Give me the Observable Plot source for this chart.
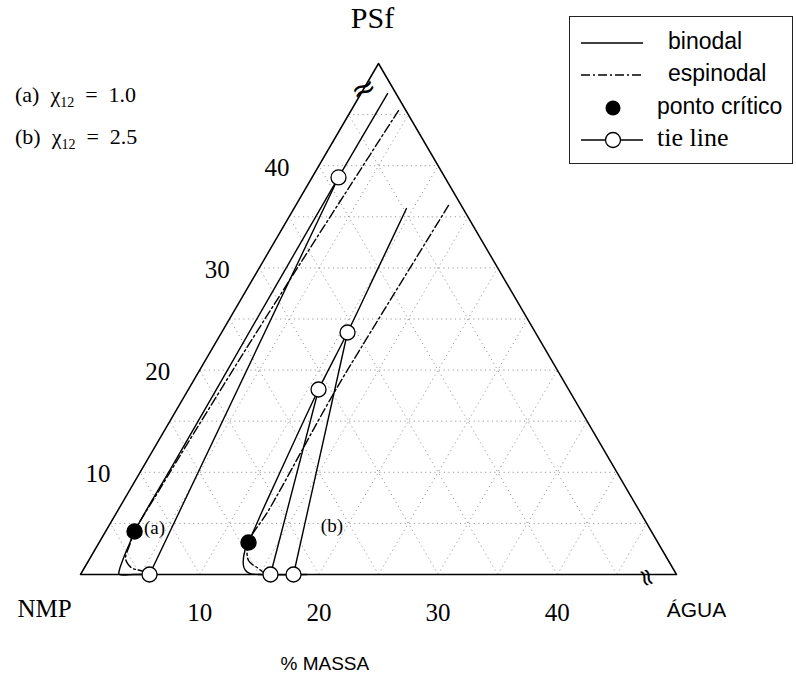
<!DOCTYPE html>
<html><head><meta charset="utf-8">
<script src="https://cdn.jsdelivr.net/npm/d3@7"></script>
<script src="https://cdn.jsdelivr.net/npm/@observablehq/plot@0.6"></script>
<style>
body{margin:0;background:#fff;}
#wrap{position:relative;width:796px;height:675px;overflow:hidden;}
#chart svg{display:block;}
.notes{position:absolute;left:15px;top:74px;font-family:"Liberation Serif",serif;font-size:22px;color:#000;line-height:42px;}
.notes sub{font-size:14px;vertical-align:-5px;line-height:0;}
.legend{position:absolute;left:569px;top:16px;width:222px;height:146px;border:1.5px solid #222;background:#fff;}
.legend svg{position:absolute;left:0;top:0;}
</style></head><body>
<div id="wrap"><div id="chart"></div><div class="notes" id="notes"></div><div class="legend" id="legend"></div></div>
<script>
// ---- data: compositions as [ÁGUA %, PSf %] (NMP = rest), truncated ternary 0–50 %
const fullScale = 50;
const gridLevels = [5, 10, 15, 20, 25, 30, 35, 40, 45];
const sideTicks = [10, 20, 30, 40];      // PSf labels (left side)
const baseTicks = [10, 20, 30, 40];      // ÁGUA labels (bottom)

const binodalA = [[2.23,47.06],[2.22,38.85],[2.27,28],[2.34,19],[2.39,11],[2.43,4.21],[2.60,3.03],[2.76,1.86],[2.90,1.08],[3.03,0.49],[3.23,0.02],[4.5,0],[6.5,0]];
const spinodalA = [[3.98,45.4],[3.6,38],[3.2,30],[2.85,22],[2.6,14],[2.47,8],[2.43,4.21],[2.7,2.8],[2.95,1.66],[3.40,1.08],[4.07,0.59],[4.65,0.44],[5.14,0.29],[5.65,0.1]];
const binodalB = [[9.44,35.81],[9.98,30],[10.56,23.68],[10.92,18.1],[11.74,10],[12.14,6.26],[12.53,3.13],[12.6,2.4],[13.23,0.88],[13.65,0.39],[14.21,0.08],[15,0],[19,0]];
const spinodalB = [[12.82,36.11],[12.46,22.9],[12.38,17.51],[12.64,6.26],[12.53,3.13],[13.41,1.37],[14.64,0.59],[15.25,0.2],[15.75,0.04]];
const tieLinesA = [[[2.22,38.85],[5.79,0]]];
const tieLinesB = [[[10.92,18.1],[15.94,0]], [[10.56,23.68],[17.87,0]]];
const criticalPoints = [[2.43,4.21],[12.53,3.13]];
const caseLabels = [{text:"(a)", c:[3.91,4.6]}, {text:"(b)", c:[18.7,4.79]}];
const chiValues = [{tag:"(a)", chi:"1.0"}, {tag:"(b)", chi:"2.5"}];
const vertexNames = {top:"PSf", left:"NMP", right:"ÁGUA"};
const axisTitle = "% MASSA";
const legendLabels = ["binodal", "espinodal", "ponto crítico", "tie line"];
const breakAt = 47.5;

// ---- ternary helpers
const tx = d => d[0] + d[1] / 2;
const ty = d => d[1];
const triangle = [[0,0],[fullScale,0],[0,fullScale],[0,0]];
const gridSegs = gridLevels.flatMap(v => [
  {a:[0, v], b:[fullScale - v, v]},
  {a:[v, 0], b:[v, fullScale - v]},
  {a:[fullScale - v, 0], b:[0, fullScale - v]}
]);
const tieAll = [...tieLinesA, ...tieLinesB].flatMap((seg, i) => seg.map(p => ({p, i})));
const tieEnds = [...tieLinesA, ...tieLinesB].flat();

const serif = "Liberation Serif, Times New Roman, serif";
const sans = "Liberation Sans, Arial, sans-serif";
const dashDot = "9,3,2,3";

const chart = Plot.plot({
  width: 796, height: 675, margin: 0,
  x: {domain: [0, fullScale], range: [80, 676], axis: null},
  y: {domain: [0, fullScale], range: [574, 63], axis: null},
  style: {background: "white"},
  marks: [
    Plot.link(gridSegs, {x1: d => tx(d.a), y1: d => ty(d.a), x2: d => tx(d.b), y2: d => ty(d.b),
      stroke: "#9a9a9a", strokeWidth: 1, strokeDasharray: "1.2,3.4"}),
    Plot.line(triangle, {x: tx, y: ty, stroke: "black", strokeWidth: 1.5}),
    Plot.line(binodalA, {x: tx, y: ty, stroke: "black", strokeWidth: 1.4, curve: "catmull-rom"}),
    Plot.line(binodalB, {x: tx, y: ty, stroke: "black", strokeWidth: 1.4, curve: "catmull-rom"}),
    Plot.line(spinodalA, {x: tx, y: ty, stroke: "black", strokeWidth: 1.4, strokeDasharray: dashDot, curve: "catmull-rom"}),
    Plot.line(spinodalB, {x: tx, y: ty, stroke: "black", strokeWidth: 1.4, strokeDasharray: dashDot, curve: "catmull-rom"}),
    Plot.line(tieAll, {x: d => tx(d.p), y: d => ty(d.p), z: "i", stroke: "black", strokeWidth: 1.4}),
    Plot.dot(tieEnds, {x: tx, y: ty, r: 7.5, fill: "white", stroke: "black", strokeWidth: 1.3}),
    Plot.dot(criticalPoints, {x: tx, y: ty, r: 7.5, fill: "black", stroke: "black"}),
    Plot.text(caseLabels, {x: d => tx(d.c), y: d => ty(d.c), text: "text", fontFamily: serif, fontSize: 19}),
    Plot.text(sideTicks, {x: d => tx([0, d]), y: d => d, text: d => String(d), dx: -42, dy: 2, fontFamily: serif, fontSize: 25}),
    Plot.text(baseTicks, {x: d => d, y: 0, text: d => String(d), dy: 38, fontFamily: serif, fontSize: 25}),
    Plot.text([[0, fullScale]], {x: tx, y: ty, text: () => vertexNames.top, dx: -6, dy: -45, fontFamily: serif, fontSize: 30}),
    Plot.text([[0, 0]], {x: tx, y: ty, text: () => vertexNames.left, dx: -36, dy: 34, fontFamily: serif, fontSize: 25}),
    Plot.text([[fullScale, 0]], {x: tx, y: ty, text: () => vertexNames.right, dx: 20, dy: 36, fontFamily: sans, fontSize: 21}),
    Plot.text([[fullScale * 0.41, 0]], {x: tx, y: ty, text: () => axisTitle, dy: 89, fontFamily: sans, fontSize: 19}),
    Plot.text([[0, breakAt]], {x: tx, y: ty, text: () => "≈", rotate: -25, fontFamily: "DejaVu Sans, sans-serif", fontSize: 30}),
    Plot.text([[breakAt, 0]], {x: tx, y: ty, text: () => "≈", rotate: 70, fontFamily: "DejaVu Sans, sans-serif", fontSize: 24, dy: 3})
  ]
});
document.getElementById("chart").append(chart);

// chi notes
document.getElementById("notes").innerHTML = chiValues
  .map(d => `<div>${d.tag}&nbsp; χ<sub>12</sub> &nbsp;=&nbsp; ${d.chi}</div>`).join("");

// legend
const lg = d3.select("#legend").append("svg").attr("width", 222).attr("height", 146);
const rowY = [26, 58, 91, 123];
const sx1 = 11, sx2 = 73, sc = 43;
lg.append("line").attr("x1", sx1).attr("x2", sx2).attr("y1", rowY[0]).attr("y2", rowY[0]).attr("stroke", "black").attr("stroke-width", 1.4);
lg.append("line").attr("x1", sx1).attr("x2", sx2).attr("y1", rowY[1]).attr("y2", rowY[1]).attr("stroke", "black").attr("stroke-width", 1.4).attr("stroke-dasharray", dashDot);
lg.append("circle").attr("cx", sc).attr("cy", rowY[2]).attr("r", 7.5).attr("fill", "black");
lg.append("line").attr("x1", sx1).attr("x2", sx2).attr("y1", rowY[3]).attr("y2", rowY[3]).attr("stroke", "black").attr("stroke-width", 1.4);
lg.append("circle").attr("cx", sc).attr("cy", rowY[3]).attr("r", 7.5).attr("fill", "white").attr("stroke", "black").attr("stroke-width", 1.3);
const textX = [98, 98, 87, 87];
legendLabels.forEach((t, i) => {
  lg.append("text").attr("x", textX[i]).attr("y", rowY[i]).attr("dominant-baseline", "middle")
    .attr("font-family", i === 3 ? serif : sans).attr("font-size", i === 3 ? 26 : 23).text(t);
});
</script>
</body></html>
